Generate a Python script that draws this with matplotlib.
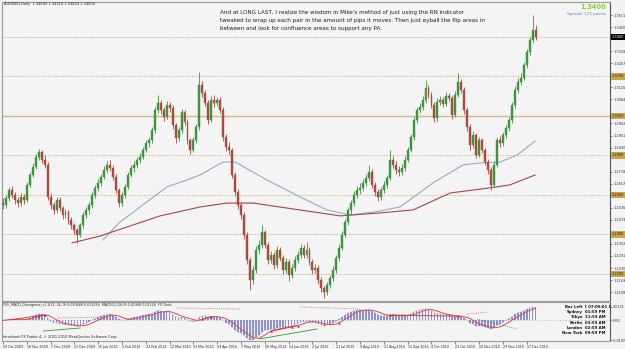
import matplotlib
matplotlib.use("Agg")
import matplotlib.pyplot as plt
import numpy as np
import pandas as pd

# AUDNZD daily, Oct 2009 - Dec 2010 (one candle = two trading days)
opens = [1.2560, 1.2549, 1.2585, 1.2625, 1.2600, 1.2575, 1.2559, 1.2590, 1.2575, 1.2651,
         1.2701, 1.2742, 1.2792, 1.2818, 1.2777, 1.2752, 1.2590, 1.2549, 1.2524, 1.2575,
         1.2534, 1.2499, 1.2514, 1.2473, 1.2448, 1.2423, 1.2397, 1.2448, 1.2499, 1.2524,
         1.2549, 1.2600, 1.2636, 1.2661, 1.2691, 1.2727, 1.2752, 1.2737, 1.2691, 1.2625,
         1.2559, 1.2600, 1.2641, 1.2701, 1.2737, 1.2752, 1.2777, 1.2792, 1.2828, 1.2863,
         1.2878, 1.2929, 1.3030, 1.3066, 1.3030, 1.2995, 1.3056, 1.3041, 1.2954, 1.2888,
         1.2929, 1.3020, 1.2970, 1.2878, 1.2828, 1.2878, 1.2944, 1.3157, 1.3116, 1.3066,
         1.2980, 1.3081, 1.3066, 1.3081, 1.3030, 1.2894, 1.2843, 1.2828, 1.2701, 1.2615,
         1.2549, 1.2499, 1.2397, 1.2271, 1.2170, 1.2220, 1.2322, 1.2347, 1.2413, 1.2347,
         1.2271, 1.2296, 1.2246, 1.2322, 1.2281, 1.2220, 1.2261, 1.2195, 1.2230, 1.2271,
         1.2296, 1.2332, 1.2296, 1.2322, 1.2261, 1.2220, 1.2230, 1.2170, 1.2129, 1.2109,
         1.2144, 1.2180, 1.2220, 1.2281, 1.2332, 1.2397, 1.2463, 1.2524, 1.2559, 1.2600,
         1.2625, 1.2636, 1.2661, 1.2686, 1.2716, 1.2651, 1.2615, 1.2590, 1.2625, 1.2651,
         1.2686, 1.2777, 1.2752, 1.2727, 1.2716, 1.2737, 1.2777, 1.2828, 1.2894, 1.2980,
         1.3030, 1.3046, 1.3081, 1.3142, 1.3106, 1.3056, 1.2990, 1.3071, 1.3081, 1.3061,
         1.3101, 1.3091, 1.3005, 1.3106, 1.3172, 1.3132, 1.3030, 1.2944, 1.2853, 1.2904,
         1.2802, 1.2878, 1.2828, 1.2767, 1.2727, 1.2651, 1.2752, 1.2878, 1.2863, 1.2904,
         1.2939, 1.2980, 1.3056, 1.3132, 1.3172, 1.3192, 1.3258, 1.3324, 1.3385, 1.3435]

highs = [1.2585, 1.2600, 1.2640, 1.2645, 1.2615, 1.2590, 1.2610, 1.2605, 1.2665, 1.2715,
         1.2760, 1.2805, 1.2835, 1.2830, 1.2800, 1.2765, 1.2610, 1.2565, 1.2590, 1.2590,
         1.2545, 1.2530, 1.2525, 1.2490, 1.2460, 1.2435, 1.2460, 1.2515, 1.2540, 1.2565,
         1.2615, 1.2650, 1.2680, 1.2705, 1.2745, 1.2770, 1.2775, 1.2750, 1.2705, 1.2635,
         1.2615, 1.2655, 1.2715, 1.2750, 1.2770, 1.2790, 1.2810, 1.2845, 1.2880, 1.2895,
         1.2945, 1.3045, 1.3106, 1.3080, 1.3045, 1.3075, 1.3070, 1.3055, 1.2965, 1.2945,
         1.3035, 1.3030, 1.2985, 1.2890, 1.2895, 1.2960, 1.3223, 1.3175, 1.3130, 1.3080,
         1.3100, 1.3105, 1.3095, 1.3095, 1.3045, 1.2910, 1.2870, 1.2840, 1.2715, 1.2630,
         1.2565, 1.2515, 1.2410, 1.2285, 1.2240, 1.2340, 1.2370, 1.2448, 1.2425, 1.2360,
         1.2315, 1.2310, 1.2340, 1.2335, 1.2295, 1.2280, 1.2275, 1.2250, 1.2290, 1.2315,
         1.2350, 1.2345, 1.2363, 1.2335, 1.2275, 1.2250, 1.2245, 1.2185, 1.2140, 1.2160,
         1.2195, 1.2240, 1.2295, 1.2350, 1.2415, 1.2480, 1.2540, 1.2575, 1.2620, 1.2645,
         1.2660, 1.2680, 1.2705, 1.2752, 1.2730, 1.2665, 1.2630, 1.2640, 1.2670, 1.2700,
         1.2828, 1.2795, 1.2770, 1.2745, 1.2755, 1.2795, 1.2845, 1.2910, 1.2995, 1.3045,
         1.3065, 1.3100, 1.3182, 1.3155, 1.3120, 1.3070, 1.3090, 1.3100, 1.3095, 1.3120,
         1.3115, 1.3100, 1.3125, 1.3218, 1.3185, 1.3145, 1.3045, 1.2960, 1.2925, 1.2915,
         1.2895, 1.2890, 1.2840, 1.2780, 1.2740, 1.2770, 1.2895, 1.2900, 1.2920, 1.2955,
         1.2995, 1.3070, 1.3150, 1.3190, 1.3215, 1.3275, 1.3340, 1.3400, 1.3511, 1.3460]

lows = [1.2530, 1.2535, 1.2570, 1.2585, 1.2555, 1.2540, 1.2545, 1.2555, 1.2565, 1.2640,
        1.2690, 1.2730, 1.2775, 1.2760, 1.2735, 1.2575, 1.2530, 1.2505, 1.2510, 1.2520,
        1.2480, 1.2485, 1.2455, 1.2430, 1.2400, 1.2357, 1.2385, 1.2435, 1.2485, 1.2505,
        1.2535, 1.2585, 1.2620, 1.2645, 1.2680, 1.2710, 1.2720, 1.2675, 1.2610, 1.2540,
        1.2545, 1.2585, 1.2630, 1.2690, 1.2715, 1.2735, 1.2760, 1.2780, 1.2815, 1.2845,
        1.2865, 1.2915, 1.3015, 1.3010, 1.2975, 1.2985, 1.3020, 1.2935, 1.2865, 1.2875,
        1.2915, 1.2955, 1.2860, 1.2805, 1.2815, 1.2865, 1.2930, 1.3095, 1.3050, 1.2960,
        1.2970, 1.3045, 1.3050, 1.3015, 1.2875, 1.2825, 1.2805, 1.2685, 1.2595, 1.2530,
        1.2480, 1.2375, 1.2250, 1.2119, 1.2150, 1.2205, 1.2300, 1.2330, 1.2330, 1.2250,
        1.2255, 1.2225, 1.2230, 1.2265, 1.2200, 1.2205, 1.2165, 1.2180, 1.2215, 1.2255,
        1.2280, 1.2280, 1.2280, 1.2245, 1.2200, 1.2205, 1.2150, 1.2110, 1.2079, 1.2095,
        1.2130, 1.2165, 1.2205, 1.2265, 1.2320, 1.2385, 1.2450, 1.2505, 1.2545, 1.2585,
        1.2605, 1.2620, 1.2645, 1.2670, 1.2635, 1.2595, 1.2570, 1.2575, 1.2610, 1.2635,
        1.2675, 1.2735, 1.2705, 1.2695, 1.2700, 1.2720, 1.2765, 1.2815, 1.2880, 1.2965,
        1.3015, 1.3030, 1.3065, 1.3090, 1.3040, 1.2970, 1.2975, 1.3055, 1.3045, 1.3050,
        1.3075, 1.2985, 1.2995, 1.3095, 1.3115, 1.3010, 1.2925, 1.2830, 1.2840, 1.2785,
        1.2790, 1.2810, 1.2750, 1.2705, 1.2625, 1.2640, 1.2740, 1.2845, 1.2850, 1.2890,
        1.2925, 1.2965, 1.3040, 1.3115, 1.3155, 1.3180, 1.3245, 1.3310, 1.3370, 1.3385]

closes = [1.2549, 1.2585, 1.2625, 1.2600, 1.2575, 1.2559, 1.2590, 1.2575, 1.2651, 1.2701,
          1.2742, 1.2792, 1.2818, 1.2777, 1.2752, 1.2590, 1.2549, 1.2524, 1.2575, 1.2534,
          1.2499, 1.2514, 1.2473, 1.2448, 1.2423, 1.2397, 1.2448, 1.2499, 1.2524, 1.2549,
          1.2600, 1.2636, 1.2661, 1.2691, 1.2727, 1.2752, 1.2737, 1.2691, 1.2625, 1.2559,
          1.2600, 1.2641, 1.2701, 1.2737, 1.2752, 1.2777, 1.2792, 1.2828, 1.2863, 1.2878,
          1.2929, 1.3030, 1.3066, 1.3030, 1.2995, 1.3056, 1.3041, 1.2954, 1.2888, 1.2929,
          1.3020, 1.2970, 1.2878, 1.2828, 1.2878, 1.2944, 1.3157, 1.3116, 1.3066, 1.2980,
          1.3081, 1.3066, 1.3081, 1.3030, 1.2894, 1.2843, 1.2828, 1.2701, 1.2615, 1.2549,
          1.2499, 1.2397, 1.2271, 1.2170, 1.2220, 1.2322, 1.2347, 1.2413, 1.2347, 1.2271,
          1.2296, 1.2246, 1.2322, 1.2281, 1.2220, 1.2261, 1.2195, 1.2230, 1.2271, 1.2296,
          1.2332, 1.2296, 1.2322, 1.2261, 1.2220, 1.2230, 1.2170, 1.2129, 1.2109, 1.2144,
          1.2180, 1.2220, 1.2281, 1.2332, 1.2397, 1.2463, 1.2524, 1.2559, 1.2600, 1.2625,
          1.2636, 1.2661, 1.2686, 1.2716, 1.2651, 1.2615, 1.2590, 1.2625, 1.2651, 1.2686,
          1.2777, 1.2752, 1.2727, 1.2716, 1.2737, 1.2777, 1.2828, 1.2894, 1.2980, 1.3030,
          1.3046, 1.3081, 1.3142, 1.3106, 1.3056, 1.2990, 1.3071, 1.3081, 1.3061, 1.3101,
          1.3091, 1.3005, 1.3106, 1.3172, 1.3132, 1.3030, 1.2944, 1.2853, 1.2904, 1.2802,
          1.2878, 1.2828, 1.2767, 1.2727, 1.2651, 1.2752, 1.2878, 1.2863, 1.2904, 1.2939,
          1.2980, 1.3056, 1.3132, 1.3172, 1.3192, 1.3258, 1.3324, 1.3385, 1.3435, 1.3400]

# moving averages (candle index, price)
ma_blue_x = [33.6, 39.3, 46.1, 55.1, 61.8, 66.2, 73.9, 78.0, 88.7, 99.8,
             108.9, 116.6, 125.0, 133.4, 144.5, 154.6, 160.3, 167.1, 172.8, 178.8]
ma_blue_y = [1.2372, 1.2463, 1.2539, 1.2641, 1.2676, 1.2701, 1.2767, 1.2767, 1.2676, 1.2590,
             1.2524, 1.2499, 1.2514, 1.2539, 1.2661, 1.2752, 1.2762, 1.2767, 1.2802, 1.2873]
ma_red_x = [23.2, 32.6, 42.7, 52.8, 66.2, 75.3, 84.0, 99.8, 113.3, 126.7,
            137.8, 150.3, 163.7, 170.4, 178.8]
ma_red_y = [1.2357, 1.2392, 1.2443, 1.2494, 1.2539, 1.2559, 1.2559, 1.2524, 1.2494, 1.2509,
            1.2524, 1.2610, 1.2636, 1.2651, 1.2701]

dotted_levels = [1.34, 1.32, 1.28, 1.26, 1.24, 1.22]
solid_level = 1.30

dates = ["20 Oct 2009", "18 Nov 2009", "7 Dec 2009", "27 Dec 2009", "15 Jan 2010",
         "3 Feb 2010", "22 Feb 2010", "12 Mar 2010", "31 Mar 2010", "19 Apr 2010",
         "7 May 2010", "26 May 2010", "14 Jun 2010", "2 Jul 2010", "21 Jul 2010",
         "9 Aug 2010", "27 Aug 2010", "15 Sep 2010", "4 Oct 2010", "22 Oct 2010",
         "10 Nov 2010", "29 Nov 2010", "17 Dec 2010"]

# divergence marks in the MACD window (candle index)
red_marks = [12, 14, 67, 70, 90, 97, 99, 108, 113, 130, 153]
green_marks = [21, 23, 62, 104, 110, 151, 159]
red_links = [(3, 14), (67, 70), (90, 99), (130, 153)]
# free-floating divergence lines: (index pair, height as fraction of the window)
float_lines = [((18.5, 35.0), (0.59, 0.615), '#e05050', ':'),
               ((58.5, 79.7), (0.846, 0.82), '#e05050', ':'),
               ((99.8, 120.0), (0.872, 0.82), '#e05050', ':'),
               ((156.0, 162.7), (0.69, 0.74), '#e05050', ':'),
               ((13.5, 26.0), (0.256, 0.333), '#2f9a2f', '-'),
               ((86.0, 105.5), (0.05, 0.308), '#2f9a2f', '-'),
               ((159.3, 172.8), (0.564, 0.308), '#2f9a2f', ':')]

W, H = 625, 349
fig = plt.figure(figsize=(W / 100, H / 100), dpi=100, facecolor='#f3f3f3')


def fx(x):
    return x / W


def fy(y):
    return 1 - y / H


ax = fig.add_axes([fx(2), fy(301), fx(610) - fx(2), fy(2) - fy(301)])
ax2 = fig.add_axes([fx(2), fy(341), fx(610) - fx(2), fy(302) - fy(341)])

o = np.array(opens)
h = np.array(highs)
l = np.array(lows)
c = np.array(closes)
idx = np.arange(len(c))
col = np.where(c >= o, '#3a963a', '#ad4a3e')

# --- price window ---
ax.set_facecolor('#f4f4f4')
for lv in dotted_levels:
    ax.axhline(lv, color='#c9a45c', ls=(0, (1, 1.6)), lw=0.7, zorder=1)
ax.axhline(solid_level, color='#d7b782', lw=1.0, zorder=1)

ax.plot(ma_blue_x, ma_blue_y, color='#93abcc', lw=0.8, zorder=2)
ax.plot(ma_red_x, ma_red_y, color='#a8444f', lw=0.8, zorder=2)

ax.vlines(idx, l, h, colors=col, linewidth=0.6, zorder=3)
ax.bar(idx, np.maximum(np.abs(c - o), 0.0003), bottom=np.minimum(o, c), width=0.65,
       color=col, edgecolor=col, linewidth=0.3, zorder=4)

ax.set_xlim(-0.34, 204.0)
ax.set_ylim(1.2063, 1.3577)
ax.set_xticks([])
ax.yaxis.tick_right()
price_ticks = [t for t in np.arange(1.3511, 1.2060, -0.0061)
               if min(abs(t - lv) for lv in dotted_levels + [solid_level]) > 0.003]
ax.set_yticks(price_ticks)
ax.set_yticklabels([f'{t:.4f}' for t in price_ticks], fontsize=2.5, color='#333333')
ax.tick_params(axis='y', length=1.5, width=0.4, pad=0.8, colors='#333333')
for s in ax.spines.values():
    s.set_color('#9a9a9a')
    s.set_linewidth(0.8)
ax.spines['right'].set_color('#555555')

for lv in dotted_levels + [solid_level]:
    black = abs(lv - 1.34) < 1e-6
    ax.text(1.003, lv, f'{lv:.4f}', transform=ax.get_yaxis_transform(), fontsize=2.5,
            ha='left', va='center', color='white' if black else '#222222',
            bbox=dict(boxstyle='square,pad=0.35', fc='black' if black else '#c9a449', ec='none'),
            clip_on=False, zorder=6)

# --- MACD window ---
ax2.set_facecolor('#f4f4f4')
cs = pd.Series(closes)
macd = cs.ewm(span=6, adjust=False).mean() - cs.ewm(span=13, adjust=False).mean()
signal = macd.rolling(5, min_periods=1).mean()
mx, mn = macd.max(), macd.min()
step = (mx - mn) / 33.0
ax2.axhline(0, color='#aaaaaa', ls=(0, (1, 1.5)), lw=0.5)
ax2.bar(idx, macd, width=0.55, color='#8e90d4', linewidth=0, zorder=2)
ax2.plot(idx, macd, color='#5f7ad0', lw=0.4, ls=(0, (1, 1)), zorder=3)
ax2.plot(idx, signal, color='#e04848', lw=0.7, zorder=4)
for a, b in red_links:
    ax2.plot([a, b], [signal[a], signal[b]], color='#d03030', lw=0.6, zorder=5)
for (xs, ys, cl, ls) in float_lines:
    ax2.plot(xs, ys, color=cl, ls=ls, lw=0.6, zorder=5, transform=ax2.get_xaxis_transform())
ax2.scatter(red_marks, signal[red_marks], marker='^', s=3, color='#d02020', zorder=6, linewidths=0)
ax2.scatter(green_marks, signal[green_marks], marker='P', s=3, color='#1f8a1f', zorder=6, linewidths=0)

ax2.set_xlim(-0.34, 204.0)
ax2.set_ylim(mn - step, mx + 5 * step)
ax2.yaxis.tick_right()
ax2.set_yticks([mx, 0.0, mn])
ax2.set_yticklabels([f'{mx:.4f}', '0.00', f'{mn:.4f}'], fontsize=2.4, color='#333333')
ax2.tick_params(axis='y', length=1.5, width=0.4, pad=0.8, colors='#333333')
date_pos = np.arange(len(dates)) * 8
ax2.set_xticks(date_pos)
ax2.set_xticklabels(dates, fontsize=2.3, ha='left', color='#333333')
ax2.tick_params(axis='x', length=2, width=0.4, pad=0.8, colors='#333333')
for s in ax2.spines.values():
    s.set_color('#9a9a9a')
    s.set_linewidth(0.8)
ax2.spines['right'].set_color('#555555')

# --- texts ---
fig.text(fx(4), fy(4), "AUDNZD,Daily  1.34690 1.34310 1.33824 1.34000", fontsize=2.6,
         color='#222222', va='center')
note = ["And at LONG LAST, I realize the wisdom in Mike's method of just using the RN indicator",
        "tweaked to wrap up each pair in the amount of pips it moves. Then just eyball the flip areas in",
        "between and look for confluence areas to support any PA."]
for k, line in enumerate(note):
    fig.text(fx(220), fy(12.7 + 8 * k), line, fontsize=4.1, color='#222222', va='center')

fig.text(fx(606), fy(7), "1.3400", fontsize=4.8, fontweight='bold', color='#7fd631',
         ha='right', va='center')
fig.text(fx(606), fy(14), "Spread: 175 points", fontsize=3.0, color='#5d86c2',
         ha='right', va='center')

fig.text(fx(3), fy(305), "FX5_MACD_Divergence_v1.1(12, 26, 9) 0.010688 0.012036  "
         "MACD(12,26,9) 0.01368 0.01226  FX Clock", fontsize=2.3, color='#222222', va='center')
fig.text(fx(3), fy(337), "Interbank FX Trader 4, \u00a9 2001-2010 MetaQuotes Software Corp.",
         fontsize=2.5, color='#222222', va='center')

clock_city = ["Bar Left", "Sydney", "Tokyo", "Berlin", "London", "New York"]
clock_time = ["[ 07:00:01 ]", "01:59 PM", "11:59 AM", "03:59 AM", "02:59 AM", "09:59 PM"]
for k, (cty, tm) in enumerate(zip(clock_city, clock_time)):
    yy = fy(307 + 5.2 * k)
    fig.text(fx(583), yy, cty, fontsize=2.8, fontweight='bold', ha='right', va='center', color='#111111')
    fig.text(fx(585), yy, tm, fontsize=2.8, fontweight='bold', ha='left', va='center', color='#111111')

fig.savefig('out.png', dpi=100, facecolor=fig.get_facecolor())
